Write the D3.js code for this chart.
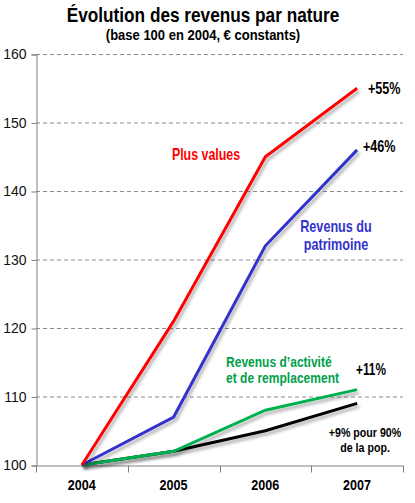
<!DOCTYPE html>
<html>
<head>
<meta charset="utf-8">
<script src="https://cdn.jsdelivr.net/npm/d3@7"></script>
<style>
  body { margin: 0; background: #fff; }
  svg text { font-family: "Liberation Sans", Arial, sans-serif; }
</style>
</head>
<body>
<div id="chart"></div>
<script>
// données
var years = ["2004", "2005", "2006", "2007"];
var yTicks = [100, 110, 120, 130, 140, 150, 160];
var plusValues = [100, 121, 145, 155];
var patrimoine = [100, 107, 132, 146];
var activite = [100, 102, 108, 111];
var pop90 = [100, 102, 105, 109];

var width = 415, height = 503;
var margin = { top: 54, right: 12, bottom: 38, left: 36 };

var svg = d3.select("#chart").append("svg")
  .attr("width", width).attr("height", height);

var defs = svg.append("defs");
var f = defs.append("filter").attr("id", "shadow")
  .attr("x", "-10%").attr("y", "-10%").attr("width", "130%").attr("height", "130%");
f.append("feDropShadow").attr("dx", 2).attr("dy", 3).attr("stdDeviation", 1.8)
  .attr("flood-color", "#000").attr("flood-opacity", 0.3);

var x = d3.scaleBand().domain(years)
  .range([margin.left, width - margin.right]);
var y = d3.scaleLinear().domain([100, 160])
  .range([height - margin.bottom, margin.top]);

// grille
svg.append("g").selectAll("line").data(yTicks.slice(1)).join("line")
  .attr("x1", margin.left).attr("x2", width - margin.right)
  .attr("y1", function(d) { return y(d) + 0.5; })
  .attr("y2", function(d) { return y(d) + 0.5; })
  .attr("stroke", "#8c8c8c").attr("stroke-dasharray", "4,3");

// axe y
var yAxis = svg.append("g").attr("transform", "translate(" + (margin.left + 0.5) + ",0.5)")
  .call(d3.axisLeft(y).tickValues(yTicks).tickSize(5).tickPadding(5));
yAxis.select(".domain").attr("stroke", "#808080");
yAxis.selectAll(".tick line").attr("stroke", "#808080");
yAxis.selectAll(".tick text").attr("fill", "#111").attr("font-size", 14)
  .style("font-family", "Liberation Sans, Arial, sans-serif");

// axe x
var xAxis = svg.append("g").attr("transform", "translate(0," + (y(100) + 0.5) + ")")
  .call(d3.axisBottom(x).tickSize(0).tickPadding(14).tickSizeOuter(0));
xAxis.select(".domain").attr("stroke", "#808080");
xAxis.selectAll(".tick text").attr("fill", "#000").attr("font-weight", "bold").attr("font-size", 15)
  .style("font-family", "Liberation Sans, Arial, sans-serif")
  .attr("transform", "scale(0.84,1)");
xAxis.append("g").selectAll("line").data(years.concat(["end"])).join("line")
  .attr("x1", function(d, i) { return Math.round(margin.left + i * x.bandwidth()) + 0.5; })
  .attr("x2", function(d, i) { return Math.round(margin.left + i * x.bandwidth()) + 0.5; })
  .attr("y1", 0).attr("y2", 7).attr("stroke", "#808080");

// courbes
var line = d3.line()
  .x(function(d, i) { return x(years[i]) + x.bandwidth() / 2; })
  .y(function(d) { return y(d); });

var series = [
  { values: pop90, color: "#000000" },
  { values: activite, color: "#00b050" },
  { values: patrimoine, color: "#3333cc" },
  { values: plusValues, color: "#ff0000" }
];
svg.append("g").selectAll("path").data(series).join("path")
  .attr("d", function(d) { return line(d.values); })
  .attr("fill", "none").attr("stroke", function(d) { return d.color; })
  .attr("stroke-width", 3).attr("filter", "url(#shadow)");

// étiquettes, police étroite simulée par compression horizontale
function label(lines, px, py, color, anchor, size, k, lh) {
  var t = svg.append("text")
    .attr("transform", "translate(" + px + "," + py + ") scale(" + k + ",1)")
    .attr("text-anchor", anchor).attr("fill", color)
    .attr("font-weight", "bold").attr("font-size", size);
  lines.forEach(function(s, i) {
    t.append("tspan").attr("x", 0).attr("y", i * (lh || size * 1.2)).text(s);
  });
}

// titres
label(["Évolution des revenus par nature"], 203, 22, "#000", "middle", 21, 0.82);
label(["(base 100 en 2004, € constants)"], 203, 40, "#000", "middle", 14, 0.93);

label(["Plus values"], 206, 160, "#ff0000", "middle", 17, 0.73);
label(["Revenus du", "patrimoine"], 336, 232, "#3333cc", "middle", 16, 0.79, 18);
label(["Revenus d\u2019activité", "et de remplacement"], 226, 367, "#00a04a", "start", 14, 0.86, 16);
label(["+55%"], 368, 94, "#000", "start", 17, 0.74);
label(["+46%"], 363, 152, "#000", "start", 17, 0.74);
label(["+11%"], 356, 375, "#000", "start", 16, 0.74);
label(["+9% pour 90%", "de la pop."], 365, 437, "#000", "middle", 13, 0.82, 15);
</script>
</body>
</html>
